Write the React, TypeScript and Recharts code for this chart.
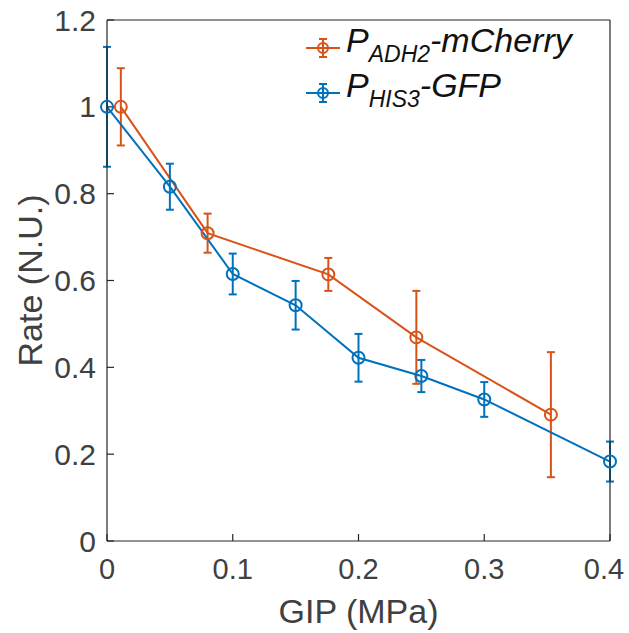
import React from 'react';
import { LineChart, Line, XAxis, YAxis, ErrorBar } from 'recharts';

// P_HIS3-GFP (blue)
const hisX = [0, 0.05, 0.1, 0.15, 0.2, 0.25, 0.3, 0.4];
const hisRate = [1.0, 0.816, 0.615, 0.543, 0.422, 0.38, 0.326, 0.183];
const hisErr = [0.138, 0.053, 0.047, 0.056, 0.055, 0.037, 0.04, 0.046];

// P_ADH2-mCherry (orange)
const adhX = [0.011, 0.08, 0.176, 0.246, 0.353];
const adhRate = [1.0, 0.709, 0.614, 0.469, 0.291];
const adhErr = [0.089, 0.045, 0.038, 0.107, 0.144];

const xTicks = [0, 0.1, 0.2, 0.3, 0.4];
const yTicks = [0, 0.2, 0.4, 0.6, 0.8, 1, 1.2];

const BLUE = '#0072BD';
const ORANGE = '#D95319';
const AXIS = '#262626';
const TEXT = '#404040';
const FONT = '"Liberation Sans", Arial, sans-serif';

const hisData = hisX.map((x, i) => ({ x, y: hisRate[i], err: hisErr[i] }));
const adhData = adhX.map((x, i) => ({ x, y: adhRate[i], err: adhErr[i] }));

const OpenCircle = (color: string) => (props: any) => {
  const { cx, cy, index } = props;
  if (cx == null || cy == null) return <g key={index} />;
  return <circle key={index} cx={cx} cy={cy} r={6} fill="none" stroke={color} strokeWidth={2} />;
};

// bottom tick label; the last one is nudged left so it stays inside the frame
const XTick = (props: any) => {
  const { x, y, payload, index, visibleTicksCount } = props;
  const last = index === visibleTicksCount - 1;
  return (
    <text x={last ? x - 6 : x} y={y} dy="0.71em" textAnchor="middle" fill={TEXT} fontSize={29} fontFamily={FONT}>
      {payload.value}
    </text>
  );
};

const LegendIcon = ({ color }: { color: string }) => (
  <svg width={38} height={30} style={{ verticalAlign: 'middle' }}>
    <line x1={2} y1={15} x2={36} y2={15} stroke={color} strokeWidth={2} />
    <line x1={19} y1={6} x2={19} y2={24} stroke={color} strokeWidth={2} />
    <line x1={15} y1={6} x2={23} y2={6} stroke={color} strokeWidth={2} />
    <line x1={15} y1={24} x2={23} y2={24} stroke={color} strokeWidth={2} />
    <circle cx={19} cy={15} r={5} fill="white" stroke={color} strokeWidth={2} />
    <line x1={19} y1={10} x2={19} y2={20} stroke={color} strokeWidth={2} />
    <line x1={14} y1={15} x2={24} y2={15} stroke={color} strokeWidth={2} />
  </svg>
);

const LegendBox = () => {
  const items = [
    { color: ORANGE, sub: 'ADH2', rest: '-mCherry' },
    { color: BLUE, sub: 'HIS3', rest: '-GFP' },
  ];
  return (
    <div style={{ position: 'absolute', left: 304, top: 25, fontFamily: FONT, fontStyle: 'italic', color: '#111' }}>
      {items.map(it => (
        <div key={it.sub} style={{ display: 'flex', alignItems: 'center', height: 45 }}>
          <LegendIcon color={it.color} />
          <span style={{ fontSize: 34, marginLeft: 4, whiteSpace: 'nowrap', lineHeight: '34px' }}>
            P<sub style={{ fontSize: 23, verticalAlign: '-0.45em' }}>{it.sub}</sub>{it.rest}
          </span>
        </div>
      ))}
    </div>
  );
};

export default function App() {
  const tickStyle = { fill: TEXT, fontSize: 30, fontFamily: FONT };
  return (
    <div style={{ position: 'absolute', left: 0, top: 0, width: 629, height: 633, background: 'white' }}>
      <LineChart width={629} height={633} margin={{ top: 19, right: 18, left: 0, bottom: 0 }}>
        <XAxis
          xAxisId="b"
          type="number"
          dataKey="x"
          domain={[0, 0.4]}
          ticks={xTicks}
          stroke={AXIS}
          strokeWidth={1.2}
          tickSize={-7}
          tickMargin={24}
          tick={<XTick />}
          height={92}
          label={{ value: 'GIP (MPa)', position: 'insideBottom', offset: 10, style: { fill: TEXT, fontSize: 34, fontFamily: FONT } }}
        />
        <XAxis
          xAxisId="t"
          orientation="top"
          type="number"
          dataKey="x"
          domain={[0, 0.4]}
          ticks={xTicks}
          stroke={AXIS}
          strokeWidth={1.2}
          tickSize={-7}
          tickFormatter={() => ''}
          height={1}
        />
        <YAxis
          yAxisId="l"
          type="number"
          domain={[0, 1.2]}
          ticks={yTicks}
          stroke={AXIS}
          strokeWidth={1.2}
          tickSize={-7}
          tickMargin={18}
          tick={tickStyle}
          width={107}
          label={{ value: 'Rate (N.U.)', angle: -90, position: 'insideLeft', offset: 30, style: { fill: TEXT, fontSize: 34, fontFamily: FONT, textAnchor: 'middle' } }}
        />
        <YAxis
          yAxisId="r"
          orientation="right"
          type="number"
          domain={[0, 1.2]}
          ticks={yTicks}
          stroke={AXIS}
          strokeWidth={1.2}
          tickSize={-7}
          tickFormatter={() => ''}
          width={1}
        />
        <Line
          data={adhData}
          xAxisId="b"
          yAxisId="l"
          dataKey="y"
          name="adh"
          stroke={ORANGE}
          strokeWidth={2}
          dot={OpenCircle(ORANGE)}
          activeDot={false}
          isAnimationActive={false}
        >
          <ErrorBar dataKey="err" direction="y" width={4} stroke={ORANGE} strokeWidth={2} isAnimationActive={false} />
        </Line>
        <Line
          data={hisData}
          xAxisId="b"
          yAxisId="l"
          dataKey="y"
          name="his"
          stroke={BLUE}
          strokeWidth={2}
          dot={OpenCircle(BLUE)}
          activeDot={false}
          isAnimationActive={false}
        >
          <ErrorBar dataKey="err" direction="y" width={4} stroke={BLUE} strokeWidth={2} isAnimationActive={false} />
        </Line>
      </LineChart>
      <LegendBox />
    </div>
  );
}
